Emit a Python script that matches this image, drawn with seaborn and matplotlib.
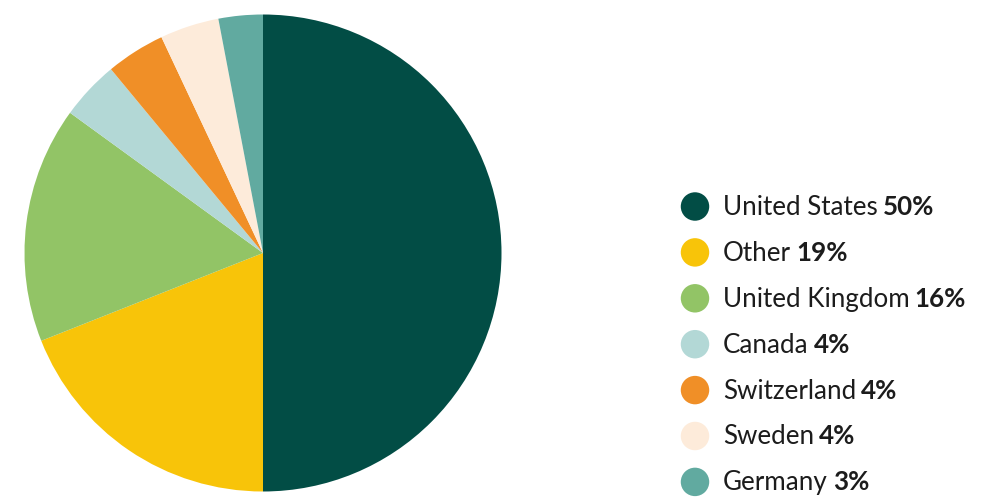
import matplotlib
matplotlib.use("Agg")
import matplotlib.pyplot as plt
import seaborn as sns
import pandas as pd

countries = ["United States", "Other", "United Kingdom", "Canada",
             "Switzerland", "Sweden", "Germany"]
shares = [50, 19, 16, 4, 4, 4, 3]
colors = ["#024D45", "#F8C409", "#92C466", "#B3D8D6",
          "#F08F27", "#FDEBDA", "#61AAA0"]

sns.set_theme(style="white")
plt.rcParams["font.family"] = ["Lato", "DejaVu Sans"]

W, H, DPI = 986, 500, 100
fig = plt.figure(figsize=(W / DPI, H / DPI), dpi=DPI)
fig.patch.set_facecolor("white")

# pie axes: centre (263, 253) px, radius ~238 px
cx, cy, r = 263, 253, 238.5
ax = fig.add_axes([(cx - r) / W, (H - cy - r) / H, 2 * r / W, 2 * r / H])
ax.pie(shares, colors=colors, startangle=90, counterclock=False,
       radius=1, wedgeprops=dict(linewidth=0))
ax.set_xlim(-1, 1)
ax.set_ylim(-1, 1)
ax.set_aspect("equal")
ax.axis("off")

# legend overlay in pixel coordinates
lax = fig.add_axes([0, 0, 1, 1])

rows = pd.DataFrame({
    "country": countries,
    "x": [695] * len(countries),
    "y": [206.5 + 45.9 * i for i in range(len(countries))],
})
sns.scatterplot(data=rows, x="x", y="y", hue="country", palette=colors,
                hue_order=countries, s=420, linewidth=0, legend=False, ax=lax)
lax.set_xlim(0, W)
lax.set_ylim(H, 0)
lax.axis("off")

txt_color = "#1c1c1c"
fs = 18.7
names = []
for name, y in zip(rows["country"], rows["y"]):
    t = lax.text(723, y + 8.5, name, fontsize=fs, fontweight="normal",
                 color=txt_color, va="baseline", ha="left")
    names.append(t)

fig.canvas.draw()
renderer = fig.canvas.get_renderer()
for t, share, y in zip(names, shares, rows["y"]):
    bb = t.get_window_extent(renderer)
    lax.text(bb.x1 + 5, y + 8.5, f"{share}%", fontsize=fs, fontweight="bold",
             color=txt_color, va="baseline", ha="left")

fig.savefig("out.png", dpi=DPI, facecolor="white")
